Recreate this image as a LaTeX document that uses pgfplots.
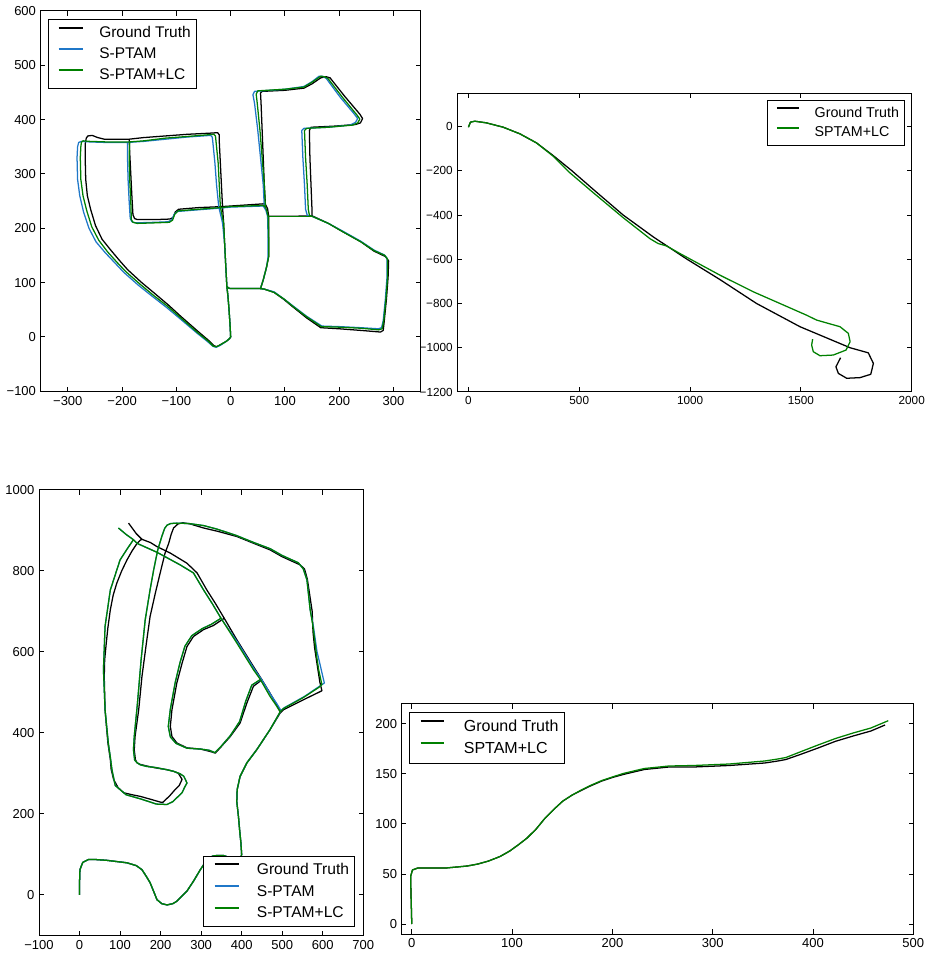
\documentclass[border=0pt]{standalone}
\usepackage{fontspec}
\setmainfont{Liberation Sans}
\usepackage{pgfplots}
\pgfplotsset{compat=1.18}
\definecolor{sblue}{RGB}{31,119,200}
\definecolor{sgreen}{RGB}{0,128,0}
\pgfplotsset{
  traj/.style={scale only axis, anchor=south west, axis line style={line width=0.75pt, black},
    tick align=inside, major tick length=3.5pt, every tick/.style={black, line width=0.75pt},
    tick label style={font=\fontsize{9.75}{10}\selectfont},
    legend cell align=left},
  gt/.style={black, line width=0.95pt, line join=round},
  sp/.style={sblue, line width=0.95pt, line join=round},
  lc/.style={sgreen, line width=0.95pt, line join=round},
}
\begin{document}
\begin{tikzpicture}
\path[use as bounding box] (0,0) rectangle (697.5pt,717.75pt);
% ---------------- Subplot 1 ----------------
\begin{axis}[traj, at={(30.5pt,424.3pt)}, width=285pt, height=285.2pt,
  xmin=-350, xmax=350, ymin=-100, ymax=600,
  xtick={-300,-200,...,300}, xticklabels={−300,−200,−100,0,100,200,300},
  ytick={-100,0,...,600}, yticklabels={−100,0,100,200,300,400,500,600},
  legend style={at={(0.018,0.978)}, anchor=north west, draw=black, line width=0.6pt, fill=white,
    font=\fontsize{11.6}{11.6}\selectfont, inner xsep=4pt, inner ysep=4.3pt, row sep=4.15pt, column sep=11.8pt,
    nodes={inner sep=0pt, text height=9.3pt, text depth=2.3pt}},
  legend image code/.code={\path[draw=none] (0pt,4.1pt) -- (4pt,4.1pt); \draw[#1, line width=1.5pt] (4pt,4.1pt) -- (22pt,4.1pt);},
  legend entries={Ground Truth, S-PTAM, S-PTAM+LC}]
\addplot[gt] coordinates {(-187,364) (-210,364) (-233,364) (-245,367) (-255,371) (-263,370) (-266,366)
(-268,355) (-268,330) (-267,290) (-264,260) (-258,235) (-249,205) (-237,180) (-221,160) (-205,141) (-190,124) (-165,101) (-141,81) (-115,59) (-92,38) (-60,10) (-40,-7) (-31,-16) (-26,-18) (-20,-15) (-8,-8) (-2,-3)
(0,0) (-1,20) (-3,50) (-5,75) (-7,93)
(-9,130) (-11,170) (-13,210) (-15,240)
(-17,280) (-19,320) (-21,360) (-21,372) (-24,376) (-40,375) (-80,373) (-120,370) (-160,367) (-187,364)
(-186,340) (-184,300) (-182,260) (-180,225) (-177,218) (-172,216) (-140,216) (-112,217) (-106,220) (-102,230) (-96,235) (-60,238) (-15,240)
(30,243) (60,245) (64,244)
(62,280) (60,330) (58,380) (56,430) (55,449) (58,452) (100,454) (135,458) (150,466) (166,477) (176,479) (183,477) (210,443) (238,410) (243,402) (239,394) (230,391) (190,388) (148,386) (145,380) (146,330) (148,280) (150,230) (150,223)
(180,209) (206,194) (240,175) (264,158) (285,148) (291,140) (290,110) (287,70) (283,30) (281,12) (276,9) (240,12) (200,15) (166,17) (140,35) (115,55) (98,69) (80,82) (62,88) (55,89)
(60,105) (66,128) (70,148) (70,180) (70,222)
(68,236) (64,244)};
\addplot[gt, forget plot] coordinates {(-7,93) (-4,90) (0,89) (30,89) (55,89)};
\addplot[gt, forget plot] coordinates {(70,222) (110,222) (150,223)};
\addplot[sp] coordinates {(-190,358) (-230,358) (-260,359) (-275,360) (-280,358) (-282,350)
(-283,330) (-282,290) (-278,260) (-271,230) (-261,200) (-248,175) (-231,155) (-213,136) (-197,119) (-171,96) (-146,76) (-119,55) (-95,35) (-62,7) (-42,-9) (-33,-17) (-27,-19) (-20,-16) (-8,-8) (-2,-3)
(0,0) (-1,20) (-3,50) (-5,75) (-7,93)
(-9,130) (-11,170) (-15,210) (-22,240)
(-26,280) (-29,320) (-33,360) (-34,368) (-37,371) (-80,368) (-120,364) (-160,360) (-190,358)
(-190,330) (-189,290) (-187,250) (-185,218) (-182,212) (-175,210) (-140,211) (-115,212) (-108,216) (-104,226) (-98,231) (-60,234) (-22,237)
(0,239) (30,240) (60,241) (62,238)
(60,280) (55,330) (50,380) (44,430) (41,446) (44,452) (100,456) (135,461) (150,470) (163,480) (169,480) (176,476) (202,441) (228,410) (234,402) (230,395) (220,390) (180,386) (135,384) (131,380) (133,330) (136,280) (138,235) (141,224)
(150,222) (180,209) (206,195) (240,176) (264,160) (283,151) (288,145) (288,110) (285,70) (281,30) (278,17) (272,15) (240,17) (200,19) (168,20) (140,38) (115,57) (98,70) (80,83) (62,88) (55,89)
(60,105) (66,128) (69,148) (69,180) (68,222)
(65,233) (62,238)};
\addplot[sp, forget plot] coordinates {(-7,93) (-4,90) (0,89) (30,89) (55,89)};
\addplot[sp, forget plot] coordinates {(68,222) (110,222) (150,222)};
\addplot[lc] coordinates {(-186,359) (-230,359) (-260,360) (-272,361) (-275,358) (-276,350)
(-277,330) (-276,290) (-272,260) (-265,232) (-256,203) (-243,178) (-227,157) (-210,138) (-194,121) (-168,98) (-144,78) (-117,57) (-93,36) (-61,8) (-41,-8) (-32,-17) (-26,-18) (-20,-15) (-8,-8) (-2,-3)
(0,0) (-1,20) (-3,50) (-5,75) (-7,93)
(-9,130) (-11,170) (-13,210) (-19,240)
(-21,280) (-23,320) (-27,360) (-28,370) (-31,373) (-80,369) (-120,366) (-160,361) (-186,359)
(-187,330) (-186,290) (-184,250) (-183,216) (-180,211) (-172,209) (-140,210) (-113,211) (-107,215) (-103,226) (-97,232) (-60,235) (-19,238)
(0,240) (30,241) (60,242) (64,239)
(62,280) (58,330) (54,380) (49,430) (47,447) (50,453) (100,456) (135,460) (150,469) (166,480) (172,479) (179,476) (206,441) (233,408) (238,401) (234,394) (225,390) (180,386) (140,384) (136,380) (138,330) (141,280) (143,235) (145,224)
(150,222) (180,209) (206,194) (240,175) (264,159) (284,150) (289,143) (289,110) (286,70) (282,30) (279,15) (273,13) (240,16) (200,18) (167,19) (140,37) (115,56) (98,70) (80,82) (62,88) (55,89)
(60,105) (66,128) (70,148) (70,180) (69,222)
(66,234) (64,239)};
\addplot[lc, forget plot] coordinates {(-7,93) (-4,90) (0,89) (30,89) (55,89)};
\addplot[lc, forget plot] coordinates {(69,222) (110,222) (150,222)};
\end{axis}
% ---------------- Subplot 2 ----------------
\begin{axis}[traj, at={(343pt,423.75pt)}, width=340.8pt, height=224pt,
  xmin=-50, xmax=2000, ymin=-1200, ymax=150,
  tick label style={font=\fontsize{8.8}{9}\selectfont},
  xtick={0,500,1000,1500,2000}, xticklabels={0,500,1000,1500,2000},
  ytick={-1200,-1000,...,0}, yticklabels={−1200,−1000,−800,−600,−400,−200,0},
  legend style={at={(0.984,0.978)}, anchor=north east, draw=black, line width=0.6pt, fill=white,
    font=\fontsize{10.7}{10.7}\selectfont, inner xsep=3.8pt, inner ysep=4.1pt, row sep=4.1pt, column sep=11.25pt,
    nodes={inner sep=0pt, text height=8.6pt, text depth=2.1pt}},
  legend image code/.code={\path[draw=none] (0pt,3.8pt) -- (3.7pt,3.8pt); \draw[#1, line width=1.5pt] (3.7pt,3.8pt) -- (20pt,3.8pt);},
  legend entries={Ground Truth, SPTAM+LC}]
\addplot[gt] coordinates {(0,-3) (9,19.5) (28.6,24) (81,16.5) (156.5,-3) (232,-33) (307,-74) (382,-131) (465,-198.5) (563,-284) (698,-400) (834,-499) (984,-598.5) (1135,-692) (1300,-800) (1496,-905) (1722,-1000) (1804,-1023) (1827,-1071) (1815,-1120) (1767,-1135) (1706.5,-1138) (1669,-1116) (1658,-1086) (1679,-1045)};
\addplot[lc] coordinates {(0,-3) (9,19.5) (28.6,24) (81,16.5) (156.5,-3) (232,-33) (307,-74) (382,-134) (457.5,-209) (563,-299) (698,-412) (819,-507) (856,-529) (894,-540) (954,-574) (1135,-672) (1285,-747) (1405.6,-800) (1526,-853) (1571,-875) (1676.5,-905) (1714,-935) (1722,-973) (1703.5,-1010.5) (1646,-1033) (1586,-1036) (1556,-1018) (1548.5,-988) (1553,-961)};
\end{axis}
% ---------------- Subplot 3 ----------------
\begin{axis}[traj, at={(29.25pt,16.3pt)}, width=243.2pt, height=334pt,
  xmin=-100, xmax=700, ymin=-100, ymax=1000,
  xtick={-100,0,...,700}, xticklabels={−100,0,100,200,300,400,500,600,700},
  ytick={0,200,...,1000}, yticklabels={0,200,400,600,800,1000},
  legend style={at={(0.974,0.019)}, anchor=south east, draw=black, line width=0.6pt, fill=white,
    font=\fontsize{11.7}{11.7}\selectfont, inner xsep=4pt, inner ysep=4.15pt, row sep=4.55pt, column sep=13pt,
    nodes={inner sep=0pt, text height=9.4pt, text depth=2.3pt}},
  legend image code/.code={\path[draw=none] (0pt,4.1pt) -- (4pt,4.1pt); \draw[#1, line width=1.5pt] (4pt,4.1pt) -- (22pt,4.1pt);},
  legend entries={Ground Truth, S-PTAM, S-PTAM+LC}]
\addplot[gt] coordinates {(0,0) (0,30) (1,62) (8,80) (22,87) (40,87) (68,85) (117,79) (140,72) (154,62) (165,45) (174,30) (183,8) (191,-12) (203,-22) (216,-25) (230,-22) (240,-16) (252,-4) (265,9) (282,35) (298,62) (310,80) (318,91) (330,96) (339,97) (355,97) (370,92) (385,90) (398,92) (400,100) (398,130) (395,160) (392,194) (388,230) (389,260) (396,292) (413,326) (437,358) (470,408) (495,449)
(503,457) (553,482) (590,500) (598,504)
(593,525) (586,570) (580,610) (576,650) (574,700) (568,740) (562,780) (555,805) (544,815)
(500,835) (470,852) (430,868) (388,885) (340,898) (306,906) (273,916) (255,919) (243,916) (232,906)
(226,890) (220,868) (211,844) (199,795) (187,745) (174,687) (165,622) (154,539) (146,457) (137,391) (135,358) (138,333) (142,326) (150,322) (166,318) (190,313) (216,309) (232,305) (244,300) (253,285) (246,270) (236,260) (222,244) (205,228)
(199,229) (175,236) (150,243) (130,247) (109,252) (95,265) (84,285) (78,310) (76,334)
(70,375) (66,420) (63,457) (61,539) (62,580) (66,622) (70,660) (76,704) (83,740) (92,770) (104,800) (117,827) (130,850) (142,868) (150,876) (154,878)
(175,870) (191,860) (224,844) (265,819) (290,795) (314,753) (335,720) (357,683)
(330,665) (306,655) (281,638) (265,613) (253,572) (240,523) (228,457) (224,416) (228,391) (240,375) (265,363) (298,360) (322,354) (335,350) (347,363) (372,391) (396,424) (413,474) (429,515) (450,531)
(470,498) (485,472) (495,452)};
\addplot[gt, forget plot] coordinates {(357,683) (388,630) (429,564) (450,531)};
\addplot[gt, forget plot] coordinates {(154,878) (140,892) (121,918)};
\addplot[sp] coordinates {(0,0) (0,30) (1,62) (8,80) (22,87) (40,87) (68,85) (117,79) (140,72) (154,62) (165,45) (174,30) (183,8) (191,-12) (203,-22) (216,-25) (230,-22) (240,-16) (252,-4) (265,9) (282,35) (298,62) (310,80) (318,91) (330,96) (339,97) (355,97) (370,92) (385,90) (398,92) (400,100) (398,130) (395,160) (392,194) (388,230) (389,260) (396,292) (413,326) (437,358) (470,408) (497,455)
(505,462) (555,490) (592,515) (604,523) (600,540) (592,575) (586,600) (577,663) (569,704) (561,778) (552,805) (540,820)
(500,838) (470,855) (430,870) (388,887) (340,903) (306,912) (270,917) (240,918) (225,917) (216,913) (210,905)
(203,885) (193,852) (183,803) (174,753) (162,679) (152,581) (143,474) (135,391) (133,358) (136,333) (142,326) (150,321) (166,317) (190,314) (215,309) (232,305) (248,299) (257,293) (262,283) (265,276) (259,265) (253,252) (230,230) (216,223)
(190,224) (150,237) (115,247) (88,270) (80,309) (76,340) (71,375) (63,457) (59,556) (63,663) (76,753) (100,827) (118,855) (133,877)
(142,868) (191,846) (248,815) (281,795) (306,753) (327,720) (349,683)
(325,668) (302,657) (277,640) (260,614) (248,574) (236,524) (224,458) (219,416) (224,390) (238,374) (265,362) (298,360) (320,357) (334,351) (347,364) (372,393) (395,428) (410,478) (425,518) (449,532)
(472,494) (488,470) (497,455)};
\addplot[sp, forget plot] coordinates {(349,683) (391,622) (432,556) (449,532)};
\addplot[sp, forget plot] coordinates {(133,877) (115,890) (96,906)};
\addplot[lc] coordinates {(0,0) (0,30) (1,62) (8,80) (22,87) (40,87) (68,85) (117,79) (140,72) (154,62) (165,45) (174,30) (183,8) (191,-12) (203,-22) (216,-25) (230,-22) (240,-16) (252,-4) (265,9) (282,35) (298,62) (310,80) (318,91) (330,96) (339,97) (355,97) (370,92) (385,90) (398,92) (400,100) (398,130) (395,160) (392,194) (388,230) (389,260) (396,292) (413,326) (437,358) (470,408) (495,452)
(503,460) (552,487) (590,512) (598,519)
(590,556) (585,589) (576,663) (569,704) (561,778) (552,805) (540,820)
(500,838) (470,855) (430,870) (388,887) (340,903) (306,912) (270,917) (240,918) (225,917) (216,913) (210,905)
(203,885) (193,852) (183,803) (174,753) (162,679) (152,581) (143,474) (135,391) (133,358) (136,333) (142,326) (150,321) (166,317) (190,314) (215,309) (232,305) (248,299) (257,293) (262,283) (265,276) (259,265) (253,252) (230,230) (216,223)
(190,224) (150,237) (115,247) (88,270) (80,309) (76,340) (71,375) (63,457) (59,556) (63,663) (76,753) (100,827) (118,855) (133,877)
(142,868) (191,846) (248,815) (281,795) (306,753) (327,720) (349,683)
(325,668) (302,657) (277,640) (260,614) (248,574) (236,524) (224,458) (219,416) (224,390) (238,374) (265,362) (298,360) (320,357) (334,351) (347,364) (372,393) (395,428) (410,478) (425,518) (446,532)
(470,490) (485,468) (495,452)};
\addplot[lc, forget plot] coordinates {(349,683) (388,622) (429,556) (446,532)};
\addplot[lc, forget plot] coordinates {(133,877) (115,890) (96,906)};
\end{axis}
% ---------------- Subplot 4 ----------------
\begin{axis}[traj, at={(301.3pt,17.25pt)}, width=383.7pt, height=172.5pt,
  xmin=-10, xmax=500, ymin=-10, ymax=220,
  xtick={0,100,...,500}, xticklabels={0,100,200,300,400,500},
  ytick={0,50,...,200}, yticklabels={0,50,100,150,200},
  legend style={at={(0.015,0.966)}, anchor=north west, draw=black, line width=0.6pt, fill=white,
    font=\fontsize{12}{12}\selectfont, inner xsep=4.2pt, inner ysep=4.65pt, row sep=5pt, column sep=13.8pt,
    nodes={inner sep=0pt, text height=9.6pt, text depth=2.4pt}},
  legend image code/.code={\path[draw=none] (0pt,4.2pt) -- (4pt,4.2pt); \draw[#1, line width=1.5pt] (4pt,4.2pt) -- (21.8pt,4.2pt);},
  legend entries={Ground Truth, SPTAM+LC}]
\addplot[gt] coordinates {(0,0) (-0.5,20) (-1,40) (-1,48) (0.7,54) (6,56) (20,56) (34,56) (45,57) (55.4,58) (66,60) (76.6,63) (88,67.5) (97.7,73) (106,79) (115,86) (124,95) (133,106) (142,115) (150.7,123) (160,129) (168,133) (178,138) (189.5,143) (200,146.5) (210.7,149.5) (231.8,154.5) (256.5,157) (281,157) (316.5,158.5) (351.8,161) (365,163) (373,164.5) (387,169.4) (405,176) (422.4,182.7) (440,188) (457.7,193) (471.8,199)};
\addplot[lc] coordinates {(0,0) (-0.5,20) (-1,40) (-1,48) (0.7,54) (6,56) (20,56) (34,56) (45,57) (55.4,58) (66,60) (76.6,63) (88,67.5) (97.7,73) (106,79) (115,86) (124,95) (133,106) (142,115) (150.7,123) (160,129) (168,133.5) (178,138.5) (189.5,143.5) (200,147) (210.7,150.5) (231.8,155.5) (256.5,158) (281,158.5) (316.5,160) (351.8,163) (365,165) (373,166.5) (387,172) (405,179) (422.4,185.5) (440,191) (457.7,196) (475,203.3)};
\end{axis}
\end{tikzpicture}
\end{document}
